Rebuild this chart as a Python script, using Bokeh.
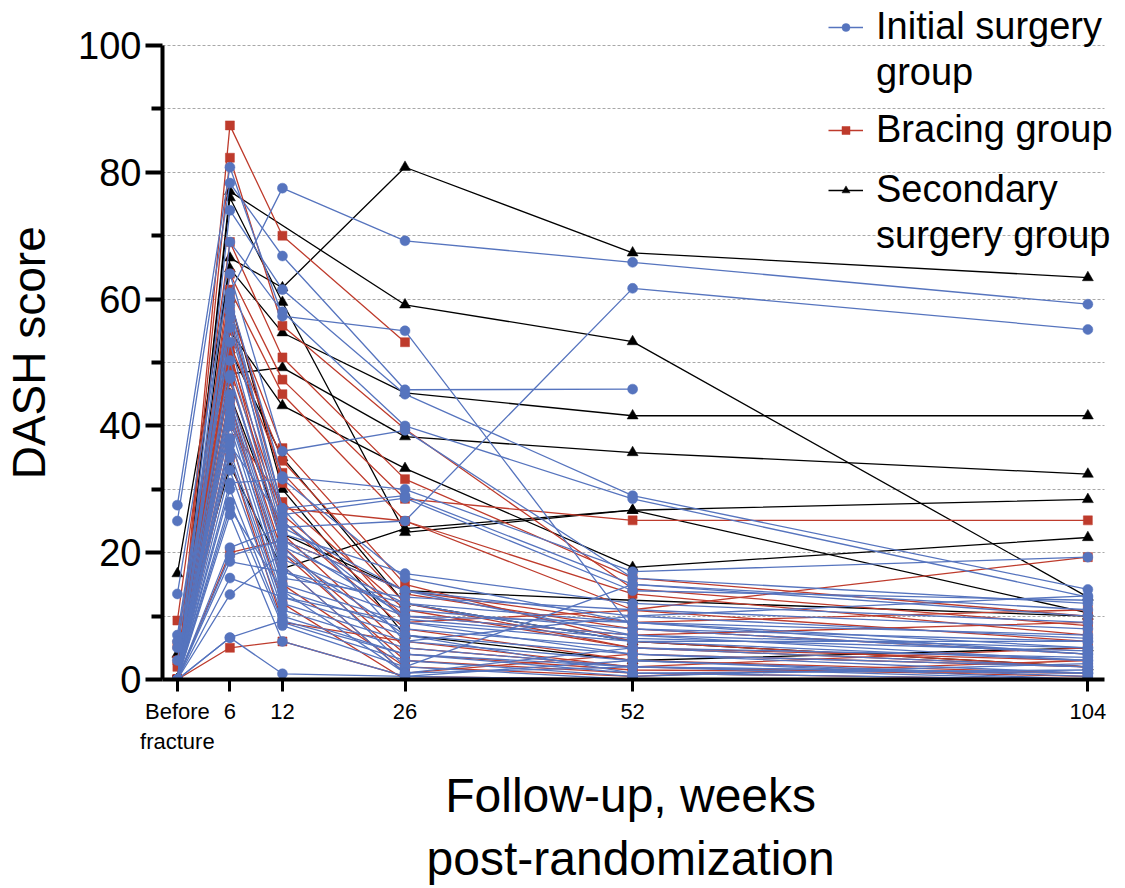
from bokeh.plotting import figure
from bokeh.models import Range1d, FixedTicker, Legend, LegendItem, ColumnDataSource
from bokeh.embed import file_html
from bokeh.resources import INLINE

nan = float("nan")

weeks = [0, 6, 12, 26, 52, 104]
week_labels = {0: "Before\nfracture", 6: "6", 12: "12", 26: "26", 52: "52", 104: "104"}
y_major_ticks = [0, 20, 40, 60, 80, 100]
y_minor_ticks = [10, 30, 50, 70, 90]
grid_levels = [10, 20, 30, 40, 50, 60, 70, 80, 90, 100]

# DASH score per patient: before fracture, 6, 12, 26, 52, 104 weeks (nan = missing)
initial_surgery = [
    [0, 61, 77.5, 69.2, 65.8, 59.2],
    [0, 57, 24, 25, 61.7, 55.2],
    [27.5, 80.8, 57.3, 55, 8, 6],
    [25, 78.3, 66.8, 45.7, 45.8, nan],
    [0, 74, 61.5, 45, 29, 14.2],
    [0, 69, 58, 40, 28.5, 13],
    [13.5, 64, 36, 39.3, 16, 12],
    [7, 60, 32, 30, 17, 19.3],
    [6, 59, 27, 29, 15, 10],
    [0, 55.5, 26, 28.6, 14, 12.5],
    [5, 53.2, 23, 16.7, 12, 9],
    [0, 50.3, 22, 14, 10, 6.5],
    [0, 47.5, 21, 12, 9, 5],
    [0, 45, 19, 11, 8, 4],
    [0, 43, 17, 10, 7, 3],
    [0, 42, 15, 9, 6, 6],
    [0, 40, 14, 8, 5, 2],
    [0, 38, 13, 7, 4, 1],
    [0, 36, 12, 6, 3, 0.5],
    [0, 35, 11, 5, 2, 0],
    [0, 33, 10, 4, 1, 1.5],
    [0, 30, 9, 3, 0.5, 2.5],
    [0, 28, 8.5, 2, 0, 0],
    [0, 27, 14, 1, 5, 3.5],
    [0, 26, 6, 0.5, 3, 0],
    [0, 6.6, 0.9, 0.5, 0, 0],
    [0, 6.6, 9.3, 4, 2, 1],
    [0, 20.8, 24, 14, 7, 5],
    [0, 19.5, 22, 10, 9, 4],
    [0, 18.6, 17, 12, 6, 3],
    [0, 16, 13, 9, 4, 2],
    [0, 13.4, 20, 7, 1, 0],
    [0, 31, 31.6, 16, 9, 7],
    [0, 58, 27, 6, 10, 13.2],
    [3, 48, 21, 2, 15, 11],
    [0, 44, 18, 1, 2, 1],
    [0, 41, 16, 13, 11, 8],
    [0, 37, 25, 9.5, 6.5, 4.5],
]

bracing = [
    [0, 87.4, 70, 53.2, nan, nan],
    [0, 82.3, 55.8, 39.5, 14.3, 8.5],
    [9.3, 69, 50.8, 31.6, 16, 10],
    [0, 64, 47.3, 28.5, 25.1, 25.1],
    [5.5, 61.5, 45, 25, 11, 19.3],
    [3, 58, 36.5, 15, 6, 2],
    [0, 55, 34.5, 13.5, 8, 4],
    [0, 53, 32.6, 12, 5, 3],
    [0, 51, 26, 10, 7, 9],
    [0, 49, 25, 8, 3, 1],
    [0, 47, 23, 5, 2, 0.5],
    [0, 45, 20, 3, 1, 0],
    [0, 42, 18, 1, 4, 2],
    [0, 38, 12, 0, 0, 0],
    [0, 35, 9, 6, 2, 5],
    [0, 20, 22, 14, 9, 11],
    [0, 5, 6, 0.5, 0, 0],
    [2, 57, 27, 25, 13.5, 7],
    [0, 60, 31, 9, 10.9, 6],
    [0, 52, 21, 4, 1.5, 1],
    [0, 44, 15, 2, 0.5, 3],
    [0, 40, 28, 11, 5, 2],
]

secondary_surgery = [
    [0, 66.5, 61.8, 80.8, 67.3, 63.4],
    [0, 77, nan, 59.1, 53.3, 13],
    [16.7, 64.8, 54.7, 45.2, 41.6, 41.6],
    [0, 48.2, 49.2, 38.3, 35.8, 32.4],
    [0, 55, 43.2, 33.3, 17.7, 22.4],
    [4, 33.7, 17.5, 23.8, 26.7, 28.4],
    [0, 76, 59.5, 23.2, 26.7, 10.5],
    [0, 45, 23, 14, 12.5, 10],
    [0, 60, 30, 7, 3, 5],
    [0, 52, 35, 12, 6, 2],
]

# legend text: (first line, continuation line)
legend_lines = [
    ("Initial surgery", "group"),
    ("Bracing group", None),
    ("Secondary", "surgery group"),
]

BLUE = "#5674BE"
RED = "#BE3B2C"
BLACK = "#000000"
FONT = "Liberation Sans"
NB = "\u00a0"

X_AXIS_BOUNDS = (-1.7, 105.9)
Y_AXIS_BOUNDS = (0, 100)


def build(rows):
    xs, ys, px, py = [], [], [], []
    for r in rows:
        x = [w for w, v in zip(weeks, r) if v == v]
        y = [v for v in r if v == v]
        xs.append(x)
        ys.append(y)
        px.extend(x)
        py.extend(y)
    return ColumnDataSource(dict(xs=xs, ys=ys)), ColumnDataSource(dict(x=px, y=py))


p = figure(width=1125, height=888, output_backend="svg", toolbar_location=None,
           x_range=Range1d(-1.7, 108.3), y_range=Range1d(0, 107.1),
           min_border_left=157, min_border_right=0, min_border_top=0,
           min_border_bottom=209)
p.outline_line_color = None
p.background_fill_color = "white"

groups = {
    "secondary": (secondary_surgery, BLACK, "triangle", 11),
    "bracing": (bracing, RED, "square", 9),
    "initial": (initial_surgery, BLUE, "circle", 10),
}
rends = {}
for key, (rows, col, marker, size) in groups.items():
    ls, ps = build(rows)
    lr = p.multi_line("xs", "ys", source=ls, line_color=col, line_width=1.3)
    sr = p.scatter("x", "y", source=ps, marker=marker, size=size,
                   fill_color=col, line_color=col, line_width=0.5)
    rends[key] = [lr, sr]

# axes
p.xaxis.ticker = FixedTicker(ticks=weeks, minor_ticks=[])
p.xaxis.major_label_overrides = week_labels
p.xaxis.bounds = X_AXIS_BOUNDS
p.yaxis.ticker = FixedTicker(ticks=y_major_ticks, minor_ticks=y_minor_ticks)
p.yaxis.bounds = Y_AXIS_BOUNDS
for ax in (p.xaxis[0], p.yaxis[0]):
    ax.axis_line_width = 4
    ax.axis_line_color = "black"
    ax.major_tick_line_color = "black"
    ax.minor_tick_line_color = "black"
    ax.major_label_text_color = "black"
    ax.major_label_text_font = FONT
    ax.axis_label_text_font = FONT
    ax.axis_label_text_font_style = "normal"
    ax.axis_label_text_color = "black"
    ax.major_tick_in = 0
    ax.minor_tick_in = 0

p.yaxis.major_tick_out = 17
p.yaxis.minor_tick_out = 11
p.yaxis.major_tick_line_width = 4
p.yaxis.minor_tick_line_width = 4
p.yaxis.major_label_text_font_size = "38px"
p.yaxis.major_label_standoff = 4
p.yaxis.axis_label = "DASH score" + NB * 2
p.yaxis.axis_label_text_font_size = "46px"
p.yaxis.axis_label_standoff = 20

p.xaxis.major_tick_out = 12
p.xaxis.major_tick_line_width = 3
p.xaxis.major_label_text_font_size = "22px"
p.xaxis.major_label_standoff = 7
p.xaxis.axis_label = "Follow-up, weeks" + NB * 2 + "\npost-randomization" + NB * 2
p.xaxis.axis_label_text_font_size = "48px"
p.xaxis.axis_label_standoff = 12

p.xgrid.grid_line_color = None
p.ygrid.ticker = FixedTicker(ticks=grid_levels)
p.ygrid.grid_line_color = "#A8A8A8"
p.ygrid.grid_line_dash = "3 2"
p.ygrid.grid_line_width = 1
try:
    p.ygrid.cross_bounds = X_AXIS_BOUNDS
except Exception:
    pass

# legend: one small legend per group, glyph aligned with the first text line
legend_keys = ["initial", "bracing", "secondary"]
legend_bottoms = [585, 528, 422]
for (first, second), key, vy in zip(legend_lines, legend_keys, legend_bottoms):
    items = [LegendItem(label=first, renderers=rends[key])]
    if second:
        items.append(LegendItem(label=second, renderers=[]))
    lg = Legend(items=items, location=(666, vy))
    lg.label_text_font = FONT
    lg.label_text_font_size = "38px"
    lg.label_text_color = "black"
    lg.glyph_width = 35
    lg.glyph_height = 20
    lg.label_standoff = 13
    lg.spacing = 3
    lg.padding = 0
    lg.margin = 0
    lg.border_line_color = None
    lg.background_fill_alpha = 0
    lg.inactive_fill_alpha = 0
    p.add_layout(lg)

open("out.html", "w").write(file_html(p, INLINE))
